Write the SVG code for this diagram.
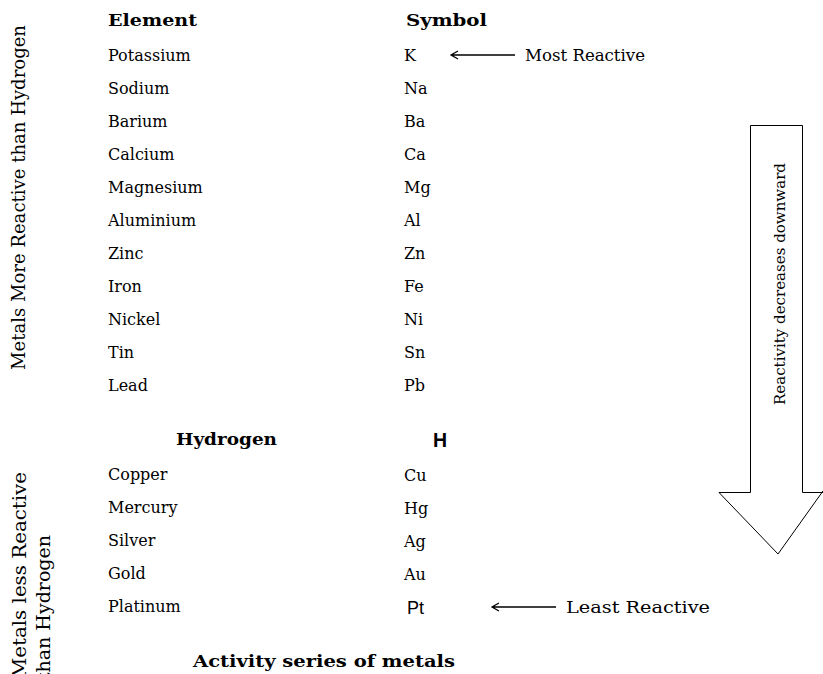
<svg xmlns="http://www.w3.org/2000/svg" width="823" height="674" viewBox="0 0 823 674">
<style>
text{font-family:"DejaVu Serif","Liberation Serif",serif;font-size:16px;fill:#000}
.b{font-weight:bold}
.side{font-size:19px}
.s{font-family:"Liberation Sans",Arial,sans-serif;font-size:18px}
.ln{stroke:#000;stroke-width:1.3;fill:none}
</style>
<rect width="823" height="674" fill="#fff"/>
<g id="side-labels">
<text class="side" transform="translate(25,25) rotate(-90)" text-anchor="end" textLength="345" lengthAdjust="spacingAndGlyphs">Metals More Reactive than Hydrogen</text>
<text class="side" transform="translate(26,472) rotate(-90)" text-anchor="end" textLength="206" lengthAdjust="spacingAndGlyphs">Metals less Reactive</text>
<text class="side" transform="translate(50,535) rotate(-90)" text-anchor="end">than Hydrogen</text>
</g>
<g id="headers">
<text class="b" x="108" y="26" textLength="89" lengthAdjust="spacingAndGlyphs">Element</text>
<text class="b" x="406" y="26" textLength="81" lengthAdjust="spacingAndGlyphs">Symbol</text>
</g>
<g id="elements">
<text x="108" y="61">Potassium</text><text x="404" y="61">K</text>
<text x="108" y="94">Sodium</text><text x="404" y="94">Na</text>
<text x="108" y="127">Barium</text><text x="404" y="127">Ba</text>
<text x="108" y="160">Calcium</text><text x="404" y="160">Ca</text>
<text x="108" y="193">Magnesium</text><text x="404" y="193">Mg</text>
<text x="108" y="226">Aluminium</text><text x="404" y="226">Al</text>
<text x="108" y="259">Zinc</text><text x="404" y="259">Zn</text>
<text x="108" y="292">Iron</text><text x="404" y="292">Fe</text>
<text x="108" y="325">Nickel</text><text x="404" y="325">Ni</text>
<text x="108" y="358">Tin</text><text x="404" y="358">Sn</text>
<text x="108" y="391">Lead</text><text x="404" y="391">Pb</text>
<text class="b" x="176" y="445" textLength="101" lengthAdjust="spacingAndGlyphs">Hydrogen</text>
<text class="s b" x="433" y="447" style="font-size:19.5px">H</text>
<text x="404" y="481">Cu</text><text x="108" y="480">Copper</text>
<text x="108" y="513">Mercury</text><text x="404" y="514">Hg</text>
<text x="108" y="546">Silver</text><text x="404" y="547">Ag</text>
<text x="108" y="579">Gold</text><text x="404" y="580">Au</text>
<text x="108" y="612">Platinum</text><text class="s" x="407" y="614">Pt</text>
</g>
<g id="labels">
<text x="525" y="61" textLength="120" lengthAdjust="spacingAndGlyphs">Most Reactive</text>
<text x="566" y="613" textLength="144" lengthAdjust="spacingAndGlyphs">Least Reactive</text>
<text class="b" x="193" y="667" textLength="262" lengthAdjust="spacingAndGlyphs">Activity series of metals</text>
</g>
<g id="connectors">
<path class="ln" d="M515 55H451M458 51L451 55L458 59"/>
<path class="ln" d="M556 607H492M499 603L492 607L499 611"/>
</g>
<g id="reactivity-arrow">
<path d="M750.5 125.5H802.5V492.5H823V491L778 554L719 492.5H750.5Z" fill="#fff" stroke="#000" stroke-width="1"/>
<text transform="translate(785,405) rotate(-90)" style="font-size:15.5px" textLength="242" lengthAdjust="spacingAndGlyphs">Reactivity decreases downward</text>
</g>
</svg>
